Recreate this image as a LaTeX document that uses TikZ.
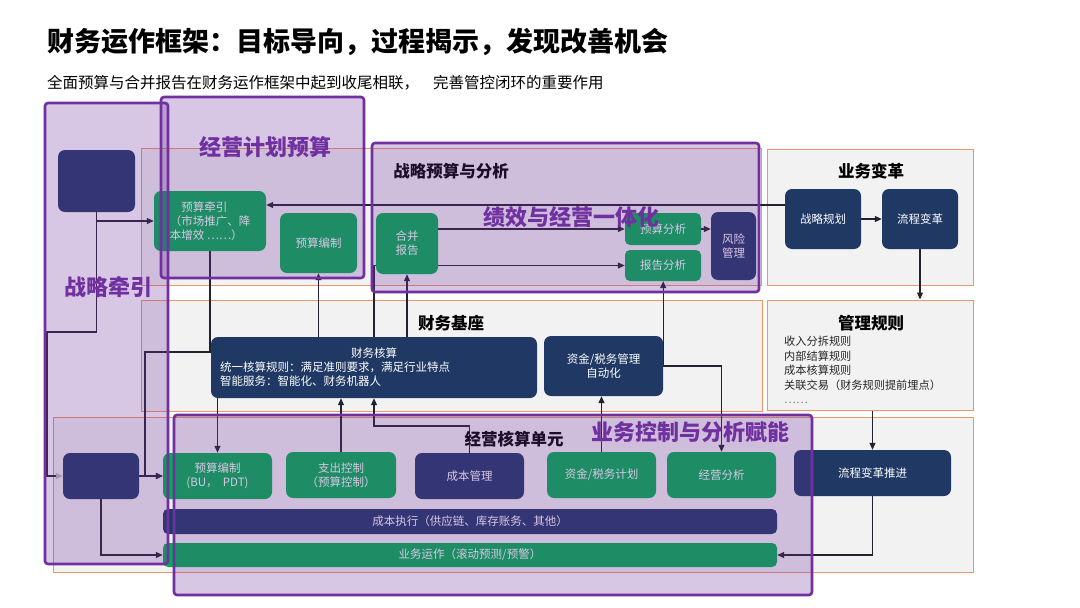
\documentclass[tikz,border=0pt]{standalone}
\usepackage{fontspec}
\setmainfont{Noto Sans CJK SC}
\usetikzlibrary{arrows.meta,fit}
\definecolor{cgreen}{HTML}{00B050}
\definecolor{cnavy}{HTML}{1F3864}
\definecolor{cpurple}{HTML}{7030A0}
\definecolor{cpanel}{HTML}{F2F2F2}
\definecolor{cedge}{HTML}{F09664}
\definecolor{cline}{HTML}{262130}
\pgfdeclarelayer{bg}
\pgfdeclarelayer{lines}
\pgfdeclarelayer{over}
\pgfsetlayers{bg,lines,main,over}
\begin{document}
\begin{tikzpicture}[x=1pt, y=-1pt,
  gbox/.style={fill=cgreen, text=white, rounded corners=7pt, align=center, inner sep=0pt, font=\fontsize{11.5}{14}\selectfont},
  nbox/.style={gbox, fill=cnavy},
  panel/.style={draw=cedge, line width=1pt, fill=cpanel, inner sep=0pt},
  zone/.style={draw=cpurple, line width=2.6pt, fill=cpurple, fill opacity=0.27, rounded corners=3pt, inner sep=0pt},
  zlabel/.style={text=cpurple, inner sep=0pt, font=\fontsize{22}{22}\selectfont\bfseries},
  sect/.style={inner sep=0pt, font=\fontsize{16.5}{17}\selectfont\bfseries},
  arr/.style={draw=cline, line width=1.1pt, -{Triangle[length=7pt,width=6pt]}}]
\useasboundingbox (0,0) rectangle (1080,608);
\begin{pgfonlayer}{bg}
\fill[white] (0,0) rectangle (1080,608);
\node[panel, fit={(141,148) (761,285)}] (pTop) {};
\node[panel, fit={(767,149) (973,285)}] (pBiz) {};
\node[panel, fit={(141,300) (762,411)}] (pBase) {};
\node[panel, fit={(767,300) (973,410)}] (pRule) {};
\node[panel, fit={(53,417) (973,572)}] (pUnit) {};
\end{pgfonlayer}

\node[anchor=west, inner sep=0pt, font=\fontsize{27}{27}\selectfont\bfseries] (title) at (47,42) {财务运作框架：目标导向，过程揭示，发现改善机会};
\node[anchor=west, inner sep=0pt, font=\fontsize{15.5}{16}\selectfont] (subtitle) at (47,83) {全面预算与合并报告在财务运作框架中起到收尾相联，\hspace{14pt}完善管控闭环的重要作用};

\node[sect] (tPlan) at (451,171) {战略预算与分析};
\node[sect] (tBiz) at (871,171) {业务变革};
\node[sect] (tBase) at (451,323) {财务基座};
\node[sect] (tRule) at (871,323) {管理规则};
\node[sect] (tUnit) at (514,439) {经营核算单元};

\node[nbox, minimum width=77pt, minimum height=62pt] (zlTop) at (96.5,181) {};
\node[gbox, minimum width=112pt, minimum height=60pt, align=left] (ysqy) at (210,221) {\quad 预算牵引\\（市场推广、降\\本增效 ……）};
\node[gbox, minimum width=77pt, minimum height=60pt] (ysbz) at (318.5,243) {预算编制};
\node[gbox, minimum width=62pt, minimum height=61pt] (hbbg) at (407,243.5) {合并\\报告};
\node[gbox, minimum width=76pt, minimum height=32pt, rounded corners=5pt] (ysfx) at (663,229) {预算分析};
\node[gbox, minimum width=76pt, minimum height=31pt, rounded corners=5pt] (bgfx) at (663,265.5) {报告分析};
\node[nbox, minimum width=45pt, minimum height=68pt] (fxgl) at (733.5,246) {风险\\管理};
\node[nbox, minimum width=76pt, minimum height=60pt] (zlgh) at (823,219) {战略规划};
\node[nbox, minimum width=76pt, minimum height=60pt] (lcbg) at (920,219) {流程变革};
\node[nbox, minimum width=326pt, minimum height=61pt, text width=308pt, align=left] (cwhs) at (374,367.5) {\makebox[308pt]{财务核算}\\统一核算规则：满足准则要求，满足行业特点\\智能服务：智能化、财务机器人};
\node[nbox, minimum width=119pt, minimum height=60pt] (zjgl) at (603.5,366) {资金/税务管理\\自动化};
\node[anchor=north west, align=left, inner sep=0pt, text=black!85, font=\fontsize{11.2}{14.5}\selectfont] (rules) at (784,336) {收入分拆规则\\内部结算规则\\成本核算规则\\关联交易（财务规则提前埋点）\\{\color{gray}……}};
\node[nbox, minimum width=76pt, minimum height=46pt] (zlBot) at (101,476) {};
\node[gbox, minimum width=109pt, minimum height=46pt] (ysbzBU) at (217.5,476) {预算编制\\(BU，\ \ PDT)};
\node[gbox, minimum width=110pt, minimum height=46pt] (zckz) at (341,475) {支出控制\\（预算控制）};
\node[nbox, minimum width=109pt, minimum height=46pt] (cbgl) at (469.5,476) {成本管理};
\node[gbox, minimum width=109pt, minimum height=46pt] (zjjh) at (601.5,475) {资金/税务计划};
\node[gbox, minimum width=109pt, minimum height=46pt] (jyfx) at (721.5,475) {经营分析};
\node[nbox, minimum width=157pt, minimum height=46pt] (lcbgtj) at (872.5,473) {流程变革推进};
\node[nbox, minimum width=614pt, minimum height=25pt, rounded corners=5pt] (cbzx) at (470,521.5) {成本执行（供应链、库存账务、其他）};
\node[gbox, minimum width=614pt, minimum height=24pt, rounded corners=5pt] (ywyz) at (470,555) {业务运作（滚动预测/预警）};

\coordinate (ytop) at (0,205);
\coordinate (bendA) at (96.5,332);
\coordinate (bendB) at (47,476);
\coordinate (bendC) at (145,352);
\coordinate (bendD) at (420,426);
\begin{pgfonlayer}{lines}
\draw[arr] (zlTop.south) |- (ysqy.west);
\draw[arr, -{Triangle[length=7pt,width=6pt,color=gray!55]}] (zlTop.south) -- (bendA) -| (bendB) -- (zlBot.west);
\draw[arr] (ysqy.south) |- (bendC) |- (ysbzBU.west);
\draw[arr] (zlBot.east) -- (ysbzBU.west);
\draw[arr] (zlBot.south) |- (ywyz.west);
\draw[arr] (cwhs.north -| ysbz) -- (ysbz.south);
\draw[arr] (cwhs.north -| hbbg) -- (hbbg.south);
\draw[arr] (cwhs.north) |- (bgfx.west);
\draw[arr] (hbbg.east |- ysfx.west) -- (ysfx.west);
\draw[arr] (ysfx.east) -- (ysfx.east -| fxgl.west);
\draw[arr] (zlgh.west |- ytop) -- (ysqy.east |- ytop);
\draw[arr] (zlgh) -- (lcbg);
\draw[arr] (lcbg.south) -- (lcbg.south |- pRule.north);
\draw[arr] (pRule.south -| lcbgtj) -- (lcbgtj.north);
\draw[arr] (lcbgtj.south) |- (ywyz.east);
\draw[arr] (cwhs.south -| ysbzBU) -- (ysbzBU.north);
\draw[arr] (zckz.north) -- (zckz.north |- cwhs.south);
\draw[arr] (cbgl.north) |- (bendD) -| (cwhs.south);
\draw[arr] (zjjh.north) -- (zjjh.north |- zjgl.south);
\draw[arr] (zjgl.east) -| (jyfx.north);
\draw[arr] (zjgl.east) -- (zjgl.east |- bgfx.south);
\end{pgfonlayer}

\begin{pgfonlayer}{over}
\node[zone, fit={(45,103) (168,564)}] (zA) {};
\node[zone, fit={(161,97) (364,278)}] (zB) {};
\node[zone, fit={(372,143) (759,292)}] (zC) {};
\node[zone, fit={(174,415) (812,595)}] (zD) {};
\node[zlabel] (lA) at (108,287) {战略牵引};
\node[zlabel] (lB) at (265,147) {经营计划预算};
\node[zlabel] (lC) at (571,217) {绩效与经营一体化};
\node[zlabel] (lD) at (690,432) {业务控制与分析赋能};
\end{pgfonlayer}
\end{tikzpicture}
\end{document}
